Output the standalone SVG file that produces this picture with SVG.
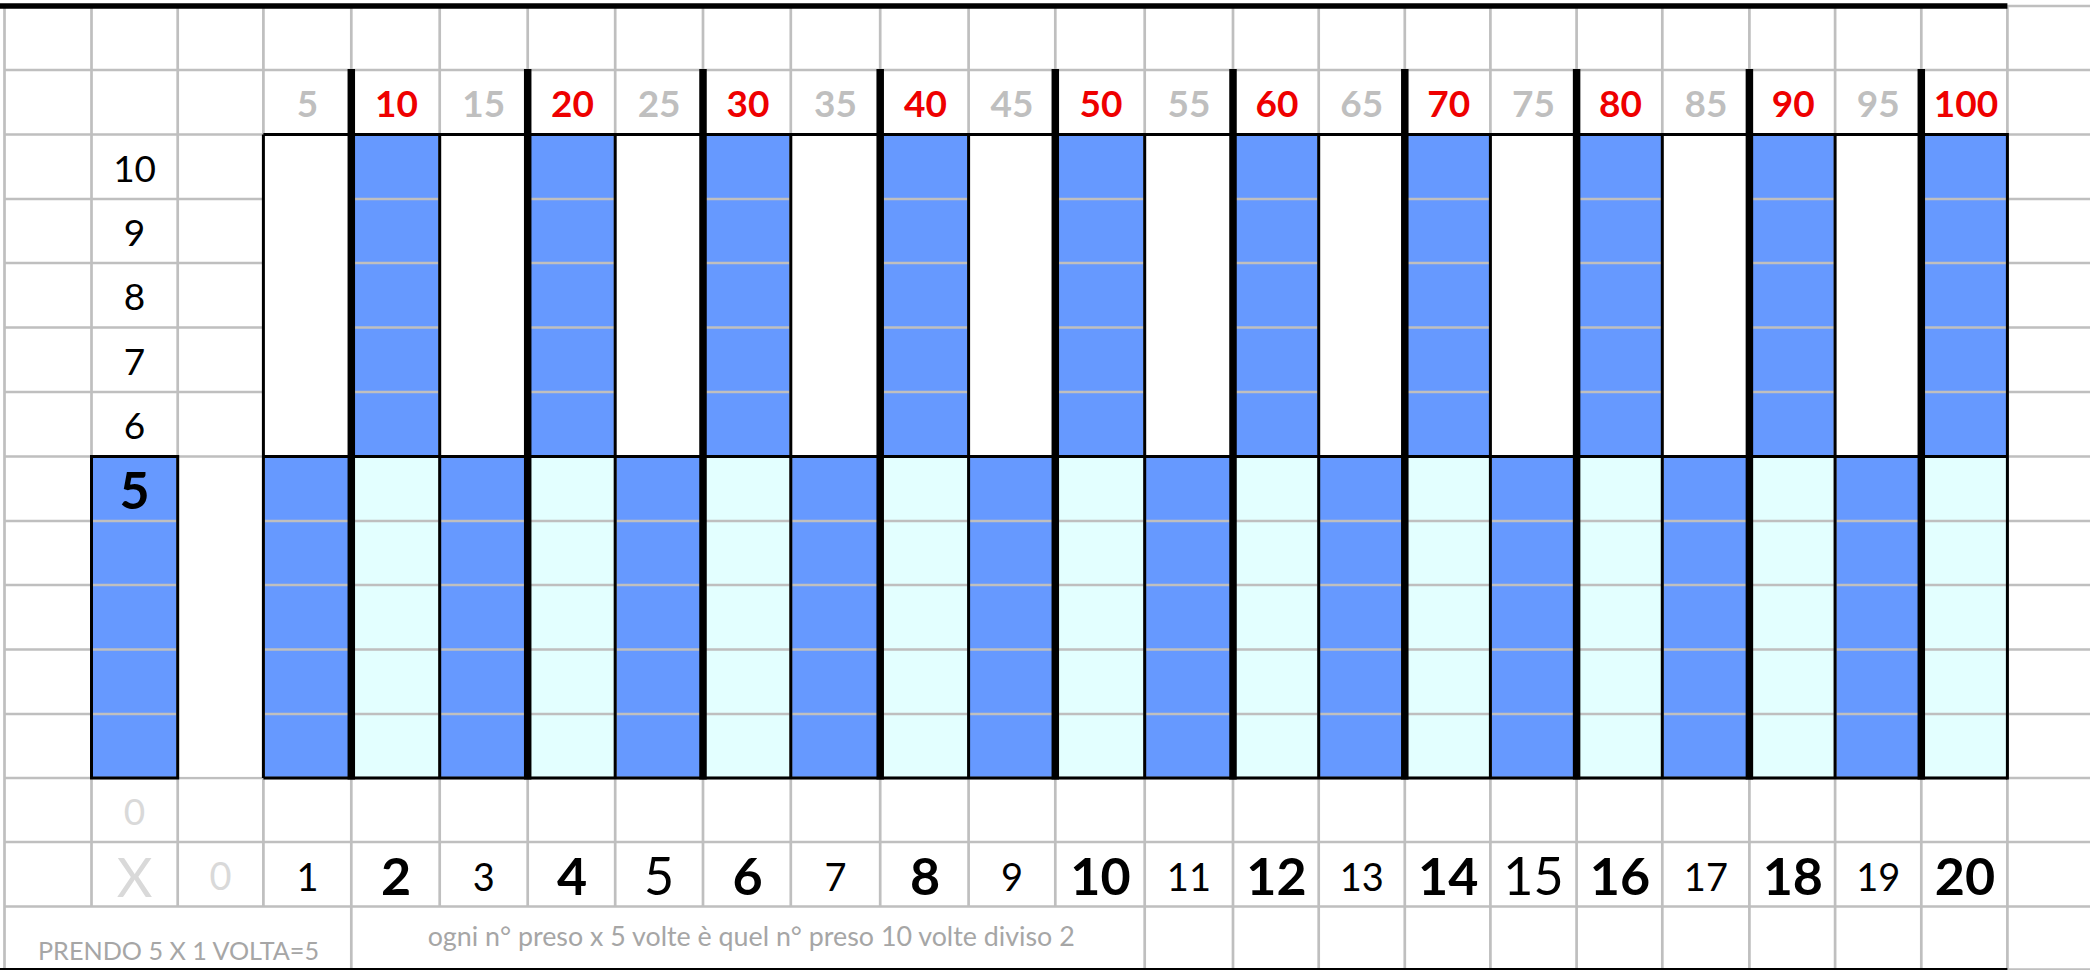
<svg xmlns="http://www.w3.org/2000/svg" width="2090" height="970" viewBox="0 0 2090 970">
<style>
.g{stroke:#BFBFBF;stroke-width:2.7;fill:none}
.k{stroke:#000;stroke-width:3;fill:none}
.kk{stroke:#000;stroke-width:7.5;fill:none}
.b{fill:#6699FF}
.c{fill:#E3FFFF}
.w{fill:#FFFFFF}
text{font-family:Lato,"Liberation Sans",sans-serif;text-anchor:middle}
.hg{font-size:37px;font-weight:bold;fill:#BFBFBF}
.hr{font-size:37px;font-weight:bold;fill:#EE0000}
.rl{font-size:37px;fill:#000}
.sm{font-size:38px;fill:#000}
.lg{font-size:52px;fill:#000}
.lb{font-size:52px;font-weight:bold;fill:#000}
.lt{fill:#D9D9D9}
.cap{fill:#A6A6A6}
</style>
<rect x="0" y="0" width="2090" height="970" fill="#FFFFFF"/>
<g id="fills">
<rect class="b" x="351.3" y="134.5" width="88.4" height="322"/>
<rect class="b" x="527.7" y="134.5" width="87.5" height="322"/>
<rect class="b" x="703" y="134.5" width="87.8" height="322"/>
<rect class="b" x="880.2" y="134.5" width="88.4" height="322"/>
<rect class="b" x="1055.3" y="134.5" width="89.4" height="322"/>
<rect class="b" x="1233" y="134.5" width="85.7" height="322"/>
<rect class="b" x="1404.8" y="134.5" width="85.6" height="322"/>
<rect class="b" x="1576.6" y="134.5" width="85.7" height="322"/>
<rect class="b" x="1749.4" y="134.5" width="85.7" height="322"/>
<rect class="b" x="1921.3" y="134.5" width="86.1" height="322"/>
<rect class="b" x="91.5" y="456.5" width="86.2" height="321.5"/>
<rect class="b" x="263.4" y="456.5" width="87.9" height="321.5"/>
<rect class="c" x="351.3" y="456.5" width="88.4" height="321.5"/>
<rect class="b" x="439.7" y="456.5" width="88" height="321.5"/>
<rect class="c" x="527.7" y="456.5" width="87.5" height="321.5"/>
<rect class="b" x="615.2" y="456.5" width="87.8" height="321.5"/>
<rect class="c" x="703" y="456.5" width="87.8" height="321.5"/>
<rect class="b" x="790.8" y="456.5" width="89.4" height="321.5"/>
<rect class="c" x="880.2" y="456.5" width="88.4" height="321.5"/>
<rect class="b" x="968.6" y="456.5" width="86.7" height="321.5"/>
<rect class="c" x="1055.3" y="456.5" width="89.4" height="321.5"/>
<rect class="b" x="1144.7" y="456.5" width="88.3" height="321.5"/>
<rect class="c" x="1233" y="456.5" width="85.7" height="321.5"/>
<rect class="b" x="1318.7" y="456.5" width="86.1" height="321.5"/>
<rect class="c" x="1404.8" y="456.5" width="85.6" height="321.5"/>
<rect class="b" x="1490.4" y="456.5" width="86.2" height="321.5"/>
<rect class="c" x="1576.6" y="456.5" width="85.7" height="321.5"/>
<rect class="b" x="1662.3" y="456.5" width="87.1" height="321.5"/>
<rect class="c" x="1749.4" y="456.5" width="85.7" height="321.5"/>
<rect class="b" x="1835.1" y="456.5" width="86.2" height="321.5"/>
<rect class="c" x="1921.3" y="456.5" width="86.1" height="321.5"/>
</g>
<g id="grid">
<path class="g" d="M4.5 6H2090M4.5 70H2090M4.5 134.5H2090M4.5 199H2090M4.5 263H2090M4.5 327.5H2090M4.5 392H2090M4.5 456.5H2090M4.5 521H2090M4.5 585H2090M4.5 649.5H2090M4.5 714H2090M4.5 778H2090M4.5 842H2090M4.5 906.5H2090M4.5 969.5H2090"/>
<path class="g" d="M4.5 6V969.5M91.5 6V906.5M177.7 6V906.5M263.4 6V906.5M351.3 6V969.5M439.7 6V906.5M527.7 6V906.5M615.2 6V906.5M703 6V906.5M790.8 6V906.5M880.2 6V906.5M968.6 6V906.5M1055.3 6V906.5M1144.7 6V969.5M1233 6V969.5M1318.7 6V969.5M1404.8 6V969.5M1490.4 6V969.5M1576.6 6V969.5M1662.3 6V969.5M1749.4 6V969.5M1835.1 6V969.5M1921.3 6V969.5M2007.4 6V969.5"/>
</g>
<g id="white-cells">
<rect class="w" x="263.4" y="134.5" width="87.9" height="322"/>
<rect class="w" x="439.7" y="134.5" width="88" height="322"/>
<rect class="w" x="615.2" y="134.5" width="87.8" height="322"/>
<rect class="w" x="790.8" y="134.5" width="89.4" height="322"/>
<rect class="w" x="968.6" y="134.5" width="86.7" height="322"/>
<rect class="w" x="1144.7" y="134.5" width="88.3" height="322"/>
<rect class="w" x="1318.7" y="134.5" width="86.1" height="322"/>
<rect class="w" x="1490.4" y="134.5" width="86.2" height="322"/>
<rect class="w" x="1662.3" y="134.5" width="87.1" height="322"/>
<rect class="w" x="1835.1" y="134.5" width="86.2" height="322"/>
<rect class="w" x="177.7" y="458" width="85.7" height="318.6"/>
</g>
<g id="borders">
<path d="M0 6H2007.4" stroke="#000" stroke-width="5.5"/>
<path class="k" d="M0 969.5H2007.4" stroke-width="2.5"/>
<path class="k" d="M263.4 134.5H2007.4M263.4 456.5H2007.4M263.4 778H2007.4"/>
<path class="k" d="M263.4 134.5V778M439.7 134.5V778M615.2 134.5V778M790.8 134.5V778M968.6 134.5V778M1144.7 134.5V778M1318.7 134.5V778M1490.4 134.5V778M1662.3 134.5V778M1835.1 134.5V778M2007.4 133V779.5"/>
<path class="kk" d="M351.3 69V779.5M527.7 69V779.5M703 69V779.5M880.2 69V779.5M1055.3 69V779.5M1233 69V779.5M1404.8 69V779.5M1576.6 69V779.5M1749.4 69V779.5M1921.3 69V779.5"/>
<rect class="k" x="91.5" y="456.5" width="86.2" height="321.5"/>
</g>
<g id="header-multiples">
<text class="hg" x="307.4" y="117">5</text>
<text class="hr" x="396.5" y="117">10</text>
<text class="hg" x="483.7" y="117">15</text>
<text class="hr" x="572.5" y="117">20</text>
<text class="hg" x="659.1" y="117">25</text>
<text class="hr" x="748" y="117">30</text>
<text class="hg" x="835.5" y="117">35</text>
<text class="hr" x="925.5" y="117">40</text>
<text class="hg" x="1012" y="117">45</text>
<text class="hr" x="1101" y="117">50</text>
<text class="hg" x="1188.9" y="117">55</text>
<text class="hr" x="1277" y="117">60</text>
<text class="hg" x="1361.8" y="117">65</text>
<text class="hr" x="1448.7" y="117">70</text>
<text class="hg" x="1533.5" y="117">75</text>
<text class="hr" x="1620.5" y="117">80</text>
<text class="hg" x="1705.9" y="117">85</text>
<text class="hr" x="1793.3" y="117">90</text>
<text class="hg" x="1878.2" y="117">95</text>
<text class="hr" x="1966" y="117">100</text>
</g>
<g id="row-labels">
<text class="rl" x="134.6" y="181.5">10</text>
<text class="rl" x="134.6" y="246">9</text>
<text class="rl" x="134.6" y="310">8</text>
<text class="rl" x="134.6" y="374.5">7</text>
<text class="rl" x="134.6" y="439">6</text>
<text class="lb" x="134.6" y="508.5">5</text>
<text class="rl lt" x="134.6" y="825">0</text>
</g>
<g id="bottom-numbers">
<text class="lt" x="134.6" y="897" font-size="55">X</text>
<text class="sm lt" x="220.6" y="890">0</text>
<text class="sm" x="307.4" y="891">1</text>
<text class="lb" x="396" y="895">2</text>
<text class="sm" x="483.7" y="891">3</text>
<text class="lb" x="572" y="895">4</text>
<text class="lg" x="659.1" y="895">5</text>
<text class="lb" x="747.5" y="895">6</text>
<text class="sm" x="835.5" y="891">7</text>
<text class="lb" x="925" y="895">8</text>
<text class="sm" x="1012" y="891">9</text>
<text class="lb" x="1100.5" y="895">10</text>
<text class="sm" x="1188.9" y="891">11</text>
<text class="lb" x="1276.5" y="895">12</text>
<text class="sm" x="1361.8" y="891">13</text>
<text class="lb" x="1448.2" y="895">14</text>
<text class="lg" x="1533.5" y="895">15</text>
<text class="lb" x="1620" y="895">16</text>
<text class="sm" x="1705.9" y="891">17</text>
<text class="lb" x="1792.8" y="895">18</text>
<text class="sm" x="1878.2" y="891">19</text>
<text class="lb" x="1964.9" y="895">20</text>
</g>
<g id="captions">
<text class="cap" x="178.5" y="960" font-size="25.5" textLength="281" lengthAdjust="spacingAndGlyphs">PRENDO 5 X 1 VOLTA=5</text>
<text class="cap" x="751.2" y="946" font-size="27" textLength="647" lengthAdjust="spacingAndGlyphs">ogni n° preso x 5 volte è quel n° preso 10 volte diviso 2</text>
</g>
</svg>
